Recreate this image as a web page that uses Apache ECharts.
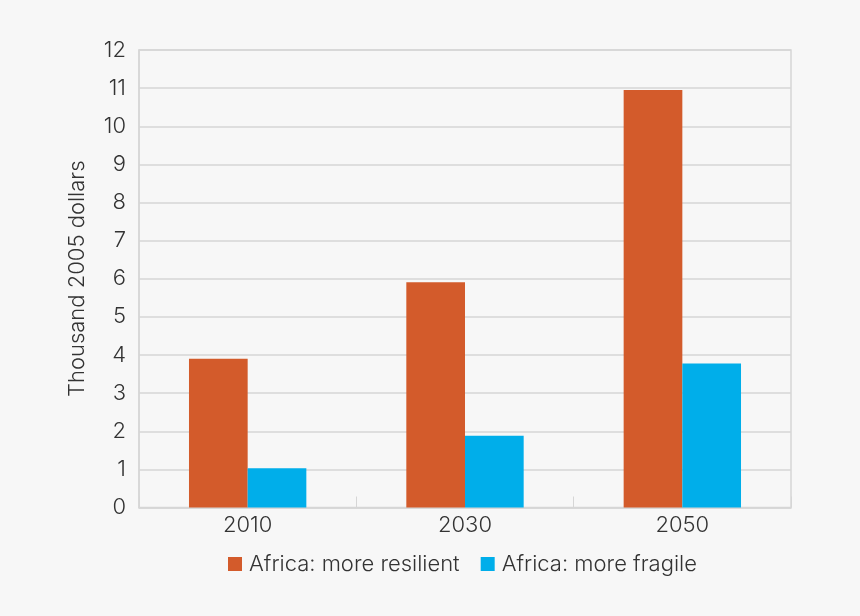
<!DOCTYPE html>
<html>
<head>
<meta charset="utf-8">
<script src="https://cdn.jsdelivr.net/npm/echarts@6/dist/echarts.min.js"></script>
<style>
html,body{margin:0;padding:0;background:#f7f7f7;}
#chart{width:860px;height:616px;}
</style>
</head>
<body>
<div id="chart"></div>
<script>
const categories = ['2010', '2030', '2050'];
const resilient = [3.9, 5.91, 10.95];
const fragile = [1.03, 1.88, 3.78];
const seriesNames = ['Africa: more resilient', 'Africa: more fragile'];
const yAxisTitle = 'Thousand 2005 dollars';

const chart = echarts.init(document.getElementById('chart'));
const font = 'Inter, "Liberation Sans", Arial, sans-serif';
chart.setOption({
  backgroundColor: '#f7f7f7',
  animation: false,
  textStyle: { fontFamily: font },
  grid: {
    left: 139, right: 69, top: 50, bottom: 108.5,
    show: true, borderColor: '#d6d6d6', borderWidth: 1.5, backgroundColor: 'transparent'
  },
  legend: {
    data: seriesNames,
    left: 223, top: 548,
    itemWidth: 14, itemHeight: 14, itemGap: 21,
    icon: 'rect',
    textStyle: { fontSize: 22, color: '#333', fontFamily: font, fontWeight: 300, padding: [0, 0, 0, 2] }
  },
  xAxis: {
    type: 'category',
    data: categories,
    axisLine: { show: true, lineStyle: { color: '#d6d6d6', width: 1.5 } },
    axisTick: { show: true, inside: true, length: 11, lineStyle: { color: '#d6d6d6', width: 1 } },
    axisLabel: { fontSize: 22, color: '#333', fontWeight: 300, margin: 7 }
  },
  yAxis: {
    type: 'value',
    min: 0, max: 12, interval: 1,
    name: yAxisTitle,
    nameLocation: 'middle',
    nameRotate: 90,
    nameGap: 51,
    nameTextStyle: { fontSize: 22, color: '#333', fontWeight: 300 },
    axisLine: { show: true, lineStyle: { color: '#d6d6d6', width: 1.5 } },
    axisTick: { show: false },
    axisLabel: { fontSize: 22, color: '#333', fontWeight: 300, margin: 13 },
    splitLine: { lineStyle: { color: '#d6d6d6', width: 1.5 } }
  },
  series: [
    {
      name: seriesNames[0], type: 'bar', data: resilient,
      barGap: '0%', barCategoryGap: '46%',
      itemStyle: { color: '#D35B2B' }
    },
    {
      name: seriesNames[1], type: 'bar', data: fragile,
      barGap: '0%', barCategoryGap: '46%',
      itemStyle: { color: '#00AEEA' }
    }
  ]
});
</script>
</body>
</html>
